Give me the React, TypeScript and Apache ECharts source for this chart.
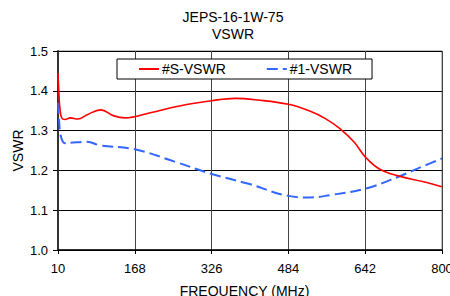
import React, { useEffect, useRef } from "react";
import * as echarts from "echarts";

const titleLines = ["JEPS-16-1W-75", "VSWR"];
const xTickLabels = [10, 168, 326, 484, 642, 800];
const yTickLabels = [1.0, 1.1, 1.2, 1.3, 1.4, 1.5];

const sName = "#S-VSWR";
const sFreq = [10, 12, 14, 18, 25, 35, 51, 70, 98, 125, 148, 200, 260, 326, 374, 420, 484, 528, 560, 590, 620, 642, 672, 714, 760, 800];
const sVswr = [1.445, 1.39, 1.355, 1.331, 1.328, 1.332, 1.329, 1.34, 1.352, 1.337, 1.332, 1.345, 1.362, 1.375, 1.381, 1.377, 1.366, 1.349, 1.33, 1.305, 1.27, 1.234, 1.203, 1.185, 1.172, 1.159];

const oneName = "#1-VSWR";
const oneFreq = [10, 12, 15, 20, 25, 40, 70, 96, 168, 250, 326, 400, 484, 528, 570, 642, 714, 760, 800];
const oneVswr = [1.37, 1.33, 1.29, 1.272, 1.268, 1.27, 1.272, 1.263, 1.253, 1.222, 1.191, 1.167, 1.136, 1.132, 1.138, 1.154, 1.186, 1.21, 1.23];

const X0 = xTickLabels[0];
const FONT = "Liberation Sans, Arial, sans-serif";

export default function App() {
  const ref = useRef<HTMLDivElement>(null);
  useEffect(() => {
    if (!ref.current) return;
    const chart = echarts.init(ref.current, null, { renderer: "svg" });
    const toPts = (f: number[], v: number[]) => f.map((x, i) => [x - X0, v[i]]);
    chart.setOption({
      animation: false,
      backgroundColor: "#fff",
      textStyle: { fontFamily: FONT },
      graphic: [
        { type: "text", x: 233, y: 17, style: { text: titleLines[0], font: `14px ${FONT}`, fill: "#000", textAlign: "center", textVerticalAlign: "middle" } },
        { type: "text", x: 233, y: 34, style: { text: titleLines[1], font: `14px ${FONT}`, fill: "#000", textAlign: "center", textVerticalAlign: "middle" } },
      ],
      legend: {
        left: 117,
        top: 59,
        padding: [3, 20, 3, 21],
        itemGap: 40,
        itemWidth: 20,
        itemHeight: 14,
        borderColor: "#000",
        borderWidth: 1,
        backgroundColor: "#fff",
        itemStyle: { opacity: 0 },
        textStyle: { fontSize: 14, color: "#000", fontFamily: FONT, padding: [0, 0, 0, -2] },
        data: [sName, oneName],
      },
      grid: { left: 58, right: 8, top: 51, bottom: 46, show: true, borderColor: "#808080", borderWidth: 1, outerBoundsMode: "none", containLabel: false },
      xAxis: {
        type: "value",
        min: 0,
        max: xTickLabels[xTickLabels.length - 1] - X0,
        interval: xTickLabels[1] - xTickLabels[0],
        name: "FREQUENCY (MHz)",
        nameLocation: "middle",
        nameGap: 34,
        nameMoveOverlap: false,
        nameTextStyle: { fontSize: 14, color: "#000", fontFamily: FONT, padding: [0, 11, 0, 0] },
        axisLine: { lineStyle: { color: "#000", width: 1.5 } },
        axisTick: { show: true, length: 4, lineStyle: { color: "#000" } },
        axisLabel: { formatter: (v: number) => String(v + X0), fontSize: 13, color: "#000", margin: 12, fontFamily: FONT, hideOverlap: false },
        splitLine: { show: true, lineStyle: { color: "#444", width: 1 } },
      },
      yAxis: {
        type: "value",
        min: yTickLabels[0],
        max: yTickLabels[yTickLabels.length - 1],
        interval: 0.1,
        name: "VSWR",
        nameLocation: "middle",
        nameGap: 33,
        nameMoveOverlap: false,
        nameTextStyle: { fontSize: 14, color: "#000", fontFamily: FONT },
        axisLine: { show: true, lineStyle: { color: "#333", width: 2 } },
        axisTick: { show: true, length: 5, lineStyle: { color: "#000" } },
        axisLabel: { formatter: (v: number) => v.toFixed(1), fontSize: 13, color: "#000", margin: 10, fontFamily: FONT },
        splitLine: { show: true, lineStyle: { color: "#000", width: 1 } },
      },
      series: [
        {
          name: sName,
          type: "line",
          data: toPts(sFreq, sVswr),
          smooth: 0.4,
          symbol: "none",
          lineStyle: { color: "#FF0000", width: 1.6 },
          itemStyle: { color: "#FF0000" },
          z: 3,
        },
        {
          name: oneName,
          type: "line",
          data: toPts(oneFreq, oneVswr),
          smooth: 0.4,
          symbol: "none",
          lineStyle: { color: "#3366FF", width: 2, type: [11, 5] },
          itemStyle: { color: "#3366FF" },
          z: 2,
        },
      ],
    });
    return () => chart.dispose();
  }, []);
  return <div ref={ref} style={{ width: 450, height: 296, position: "fixed", left: 0, top: 0 }} />;
}
